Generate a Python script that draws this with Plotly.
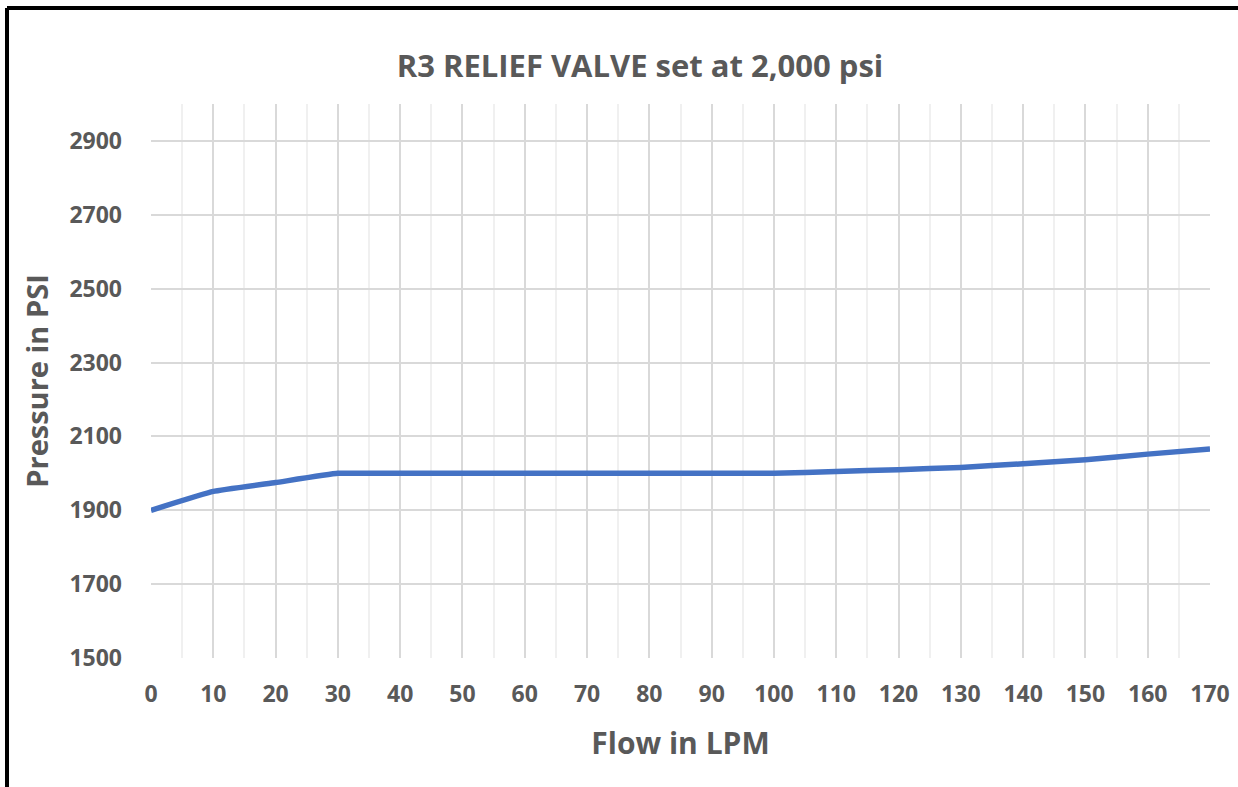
import plotly.graph_objects as go

flow_lpm = [0, 10, 20, 30, 40, 50, 60, 70, 80, 90, 100, 110, 120, 130, 140, 150, 160, 170]
pressure_psi = [1900, 1951, 1975, 2000, 2000, 2000, 2000, 2000, 2000, 2000, 2000,
                2005, 2010, 2016, 2026, 2037, 2052, 2066]

title_text = "R3 RELIEF VALVE set at 2,000 psi"
x_title = "Flow in LPM"
y_title = "Pressure in PSI"

W, H = 1238, 787
ML, MR, MT, MB = 151, 28, 104, 129
PW, PH = W - ML - MR, H - MT - MB

def px_x(p):
    return (p - ML) / PW

def px_y(p):
    return 1 - (p - MT) / PH

font_family = "Open Sans, Noto Sans, Arial, sans-serif"
gray = "#595959"

fig = go.Figure()
fig.add_trace(go.Scatter(
    x=flow_lpm, y=pressure_psi, mode="lines",
    line=dict(color="#4472C4", width=5.5, shape="spline", smoothing=0.3),
    showlegend=False,
))

fig.update_layout(
    width=W, height=H,
    margin=dict(l=ML, r=MR, t=MT, b=MB, autoexpand=False),
    paper_bgcolor="white", plot_bgcolor="white",
    title=dict(text=f"<b>{title_text}</b>", x=640 / W, xanchor="center",
               y=1 - 66 / H, yanchor="middle",
               font=dict(family=font_family, size=31, color=gray)),
    xaxis=dict(
        range=[0, 170], tickmode="linear", tick0=0, dtick=10,
        showgrid=True, gridcolor="#d9d9d9", gridwidth=1.5,
        minor=dict(dtick=5, showgrid=True, gridcolor="#f0f0f0", gridwidth=1.5),
        zeroline=False, showline=False, ticks="",
        tickfont=dict(family=font_family, size=23, color=gray, weight="bold"),
        ticklabelstandoff=20,
        title=dict(text=f"<b>{x_title}</b>", standoff=24,
                   font=dict(family=font_family, size=30, color=gray)),
    ),
    yaxis=dict(
        range=[1500, 3000], tickmode="linear", tick0=1500, dtick=200,
        showgrid=True, gridcolor="#d9d9d9", gridwidth=1.5,
        zeroline=False, showline=False, ticks="",
        tickfont=dict(family=font_family, size=23, color=gray, weight="bold"),
        ticklabelstandoff=28,
        title=dict(text=f"<b>{y_title}</b>", standoff=12,
                   font=dict(family=font_family, size=29, color=gray)),
    ),
)

# outer black frame (left and top edges visible in the reference)
xl, yt = px_x(7), px_y(8)
fig.add_shape(type="line", xref="paper", yref="paper", x0=xl, x1=xl, y0=px_y(H + 20), y1=yt,
              line=dict(color="black", width=4), layer="above")
fig.add_shape(type="line", xref="paper", yref="paper", x0=xl, x1=px_x(W + 20), y0=yt, y1=yt,
              line=dict(color="black", width=4), layer="above")

fig.write_html("out.html", config={"displayModeBar": False},
               post_script="document.body.style.margin='0';document.body.style.overflow='hidden';")
